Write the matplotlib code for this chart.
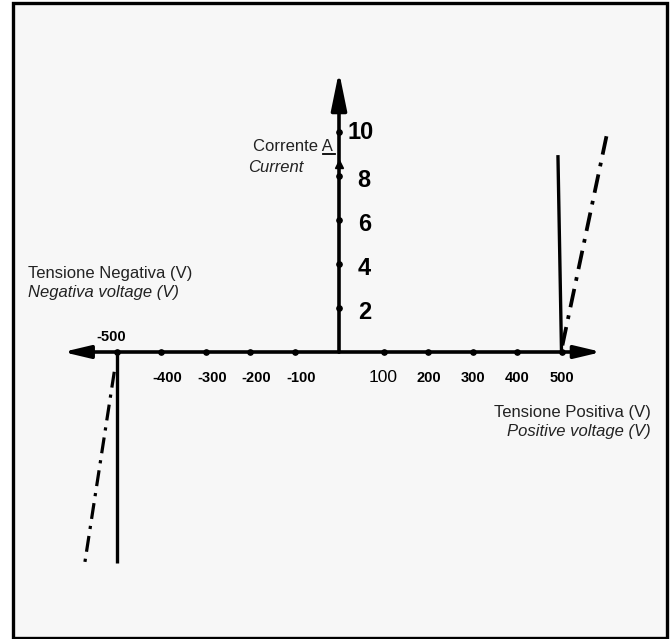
import matplotlib
matplotlib.use("Agg")
import matplotlib.pyplot as plt
from matplotlib.patches import Rectangle

# ---- data ----
volt_ticks_neg = [-500, -400, -300, -200, -100]
volt_ticks_pos = [100, 200, 300, 400, 500]
volt_labels_neg = ["-500", "-400", "-300", "-200", "-100"]
volt_labels_pos = ["100", "200", "300", "400", "500"]
current_ticks = [2, 4, 6, 8, 10]
current_labels = ["2", "4", "6", "8", "10"]

pos_solid_V = [500, 492]
pos_solid_I = [0, 8.95]
pos_dash_V = [502, 602]
pos_dash_I = [0.3, 9.9]
neg_solid_V = [-500, -500]
neg_solid_I = [0, -9.6]
neg_dash_V = [-505, -571]
neg_dash_I = [-0.9, -9.55]

# ---- layout ----
W, H, DPI = 672, 639, 100
PX_PER_V = 0.445
PX_PER_A = 22.0
X0, Y0 = 339, 352

fig = plt.figure(figsize=(W / DPI, H / DPI), dpi=DPI, facecolor="white")
ax = fig.add_axes([0, 0, 1, 1])
ax.set_axis_off()
ax.patch.set_alpha(0)
ax.set_xlim(-X0 / PX_PER_V, (W - X0) / PX_PER_V)
ax.set_ylim(-(H - Y0) / PX_PER_A, Y0 / PX_PER_A)
ax.add_patch(Rectangle((12.5 / W, 1.5 / H), (667 - 12.5) / W, (636 - 1.5) / H,
                       transform=ax.transAxes, facecolor="#f7f7f7",
                       edgecolor="black", lw=2.4, zorder=0, clip_on=False))

k = "black"
axis_lw = 2.6
# axes with arrows
xarrow = dict(arrowstyle="-|>,head_length=1.6,head_width=0.38", lw=axis_lw, color=k,
              shrinkA=0, shrinkB=0, mutation_scale=10)
yarrow = dict(arrowstyle="-|>,head_length=2.3,head_width=0.47", lw=axis_lw, color=k,
              shrinkA=0, shrinkB=0, mutation_scale=10)
ax.annotate("", xy=(-620, 0), xytext=(0, 0), arrowprops=xarrow)
ax.annotate("", xy=(590, 0), xytext=(0, 0), arrowprops=xarrow)
ax.annotate("", xy=(0, 12.75), xytext=(0, 0), arrowprops=yarrow)

# tick marks
ax.plot(volt_ticks_neg + volt_ticks_pos, [0] * 10, ls="none", marker="o", ms=3.8, color=k)
ax.plot([0] * 5, current_ticks, ls="none", marker="o", ms=3.8, color=k)
ax.plot([-36, -8], [9.0, 9.0], color=k, lw=1.3)
ax.plot([0], [8.55], marker="^", ms=6, color=k)

# characteristic lines
ax.plot(pos_solid_V, pos_solid_I, color=k, lw=2.4, solid_capstyle="butt")
ax.plot(neg_solid_V, neg_solid_I, color=k, lw=2.4, solid_capstyle="butt")
ax.plot(pos_dash_V, pos_dash_I, color=k, lw=2.7, dashes=(5, 2.2, 1, 2.2))
ax.plot(neg_dash_V, neg_dash_I, color=k, lw=2.3, dashes=(5, 2.2, 1, 2.2))

# tick labels
bold_small = dict(family="Liberation Sans", weight="bold", fontsize=10.5, color=k,
                  ha="center", va="center")
for v, lab in zip(volt_ticks_neg, volt_labels_neg):
    if v == -500:
        ax.text(v - 12, 0.68, lab, **bold_small)
    else:
        ax.text(v + 15, -1.2, lab, **bold_small)
for v, lab in zip(volt_ticks_pos, volt_labels_pos):
    if v == 100:
        ax.text(v, -1.18, lab, family="Liberation Sans", fontsize=12.5, color=k,
                ha="center", va="center")
    else:
        ax.text(v + 1, -1.2, lab, **bold_small)
for c, lab in zip(current_ticks, current_labels):
    xoff = 20 if lab == "10" else 42
    ax.text(xoff, c + (0.0 if c == 10 else -0.2), lab, family="Liberation Sans",
            weight="bold", fontsize=17, color=k, ha="left", va="center")

# axis titles
tc = "#222222"
ax.text(-14, 9.36, "Corrente A", family="Liberation Sans", fontsize=12, color=tc,
        ha="right", va="center")
ax.text(-204, 8.4, "Current", family="Liberation Sans", fontsize=12, style="italic",
        color=tc, ha="left", va="center")
ax.text(-699, 3.59, "Tensione Negativa (V)", family="Liberation Sans", fontsize=12,
        color=tc, ha="left", va="center")
ax.text(-699, 2.72, "Negativa voltage (V)", family="Liberation Sans", fontsize=12,
        style="italic", color=tc, ha="left", va="center")
ax.text(701, -2.77, "Tensione Positiva (V)", family="Liberation Sans", fontsize=12,
        color=tc, ha="right", va="center")
ax.text(701, -3.6, "Positive voltage (V)", family="Liberation Sans", fontsize=12,
        style="italic", color=tc, ha="right", va="center")

fig.savefig("out.png", dpi=DPI, facecolor="white")
